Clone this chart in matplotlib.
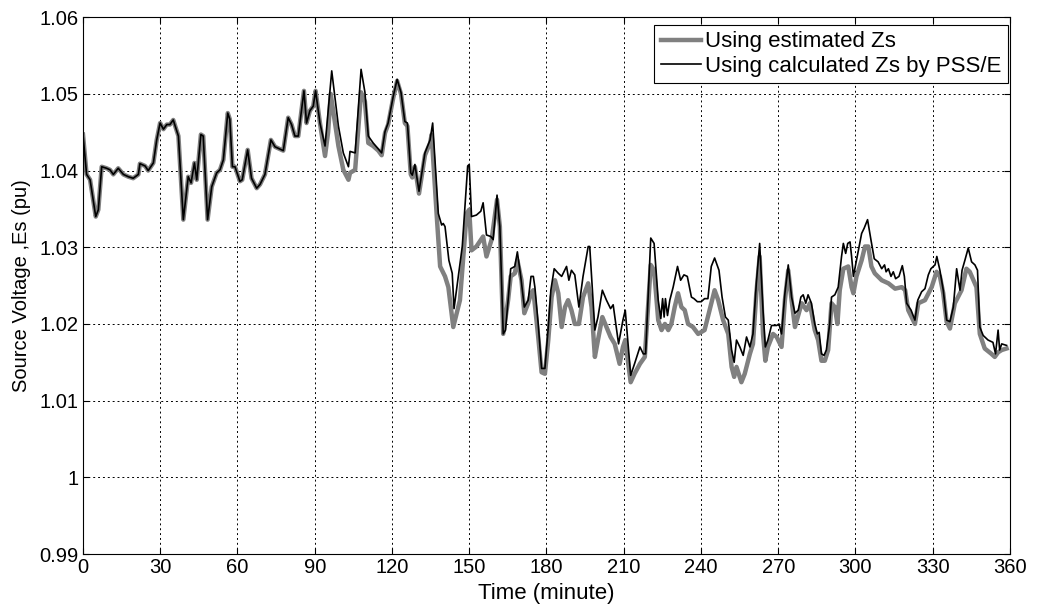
import matplotlib
matplotlib.use("Agg")
import matplotlib.pyplot as plt

# common part (both curves coincide up to ~93 min)
t_common = [0.0, 1.4, 2.75, 4.95, 5.96, 7.26, 9.17, 10.47, 11.78, 13.68, 15.69, 17.6, 19.5,
            21.51, 22.11, 24.12, 25.32, 27.33, 28.63, 29.94, 31.24, 32.54, 33.75, 35.05, 37.06,
            38.96, 40.87, 41.97, 43.28, 44.18, 45.79, 46.69, 48.39, 50.0, 51.91, 53.21, 54.51,
            56.22, 57.02, 58.03, 59.03, 60.94, 61.84, 63.95, 65.45, 67.46, 68.76, 70.66, 72.97,
            74.58, 77.79, 79.69, 81.0, 82.3, 83.61, 85.81, 86.81, 88.12, 89.42, 90.33, 92.03]
v_common = [1.0447, 1.0395, 1.0388, 1.0340, 1.0349, 1.0405, 1.0403, 1.0401, 1.0395, 1.0403,
            1.0395, 1.0392, 1.0390, 1.0395, 1.0409, 1.0406, 1.0400, 1.0410, 1.0440, 1.0462,
            1.0454, 1.0460, 1.0460, 1.0466, 1.0445, 1.0336, 1.0392, 1.0384, 1.0410, 1.0388,
            1.0447, 1.0445, 1.0336, 1.0379, 1.0397, 1.0401, 1.0414, 1.0475, 1.0467, 1.0405,
            1.0405, 1.0386, 1.0388, 1.0427, 1.0390, 1.0377, 1.0382, 1.0395, 1.0440, 1.0431,
            1.0426, 1.0469, 1.0460, 1.0445, 1.0445, 1.0504, 1.0462, 1.0478, 1.0484, 1.0504,
            1.0462]

# calculated Zs by PSS/E (black), after 93 min
t_calc = [94.0, 94.7, 96.6, 99.2, 101.1, 103.1, 103.7, 105.7, 108.0, 109.5, 110.8, 112.7,
          114.7, 116.0, 117.3, 118.5, 120.5, 122.0, 123.5, 125.0, 126.0, 127.3, 127.9, 128.9,
          130.5, 132.8, 134.8, 135.8, 138.0, 139.3, 139.9, 140.6, 142.1, 143.4, 144.1, 147.3,
          149.4, 150.0, 150.9, 152.8, 154.5, 155.4, 156.7, 158.4, 159.3, 160.8, 161.9, 163.2,
          164.1, 165.1, 166.1, 167.7, 168.7, 170.0, 171.4, 172.9, 174.0, 174.9, 175.5, 176.8,
          178.1, 179.4, 180.7, 181.7, 183.0, 184.6, 185.9, 187.8, 188.7, 189.7, 191.0, 192.6,
          194.2, 196.2, 196.8, 198.8, 200.0, 201.7, 203.3, 204.9, 205.9, 208.0, 209.7, 210.6,
          212.7, 214.2, 216.3, 217.6, 218.5, 220.5, 221.8, 223.4, 224.4, 225.1, 225.7, 226.2,
          227.0, 227.9, 229.2, 230.9, 232.1, 233.4, 234.7, 236.3, 237.3, 238.6, 240.1, 241.4,
          242.7, 244.0, 245.3, 247.0, 248.2, 249.5, 250.6, 251.9, 252.9, 253.8, 255.1, 256.4,
          257.7, 259.0, 260.2, 261.5, 262.8, 264.1, 265.0, 266.0, 267.4, 269.4, 270.3, 271.3,
          272.6, 273.9, 275.2, 276.5, 277.8, 278.8, 279.7, 280.7, 281.6, 282.9, 284.2, 285.2,
          285.9, 286.8, 287.8, 288.7, 290.0, 290.7, 292.0, 293.3, 294.6, 295.3, 296.2, 297.0,
          297.9, 298.5, 299.2, 300.4, 302.4, 303.4, 304.7, 306.0, 307.3, 308.8, 310.2, 311.3,
          311.9, 312.8, 313.8, 314.7, 315.6, 316.9, 318.2, 319.0, 319.9, 321.6, 323.1, 324.2,
          325.7, 327.0, 328.3, 329.3, 330.9, 331.6, 332.8, 334.1, 335.4, 336.7, 338.0, 339.3,
          340.6, 341.4, 342.5, 343.8, 345.1, 346.4, 347.4, 348.3, 349.6, 351.5, 353.4, 354.4,
          355.4, 356.0, 356.8, 358.7]
v_calc = [1.0432, 1.0458, 1.0530, 1.0458, 1.0423, 1.0405, 1.0425, 1.0423, 1.0532, 1.0502,
          1.0445, 1.0436, 1.0428, 1.0423, 1.0451, 1.0462, 1.0497, 1.0519, 1.0502, 1.0464,
          1.0462, 1.0397, 1.0394, 1.0408, 1.0373, 1.0423, 1.0440, 1.0462, 1.0344, 1.0329,
          1.0331, 1.0327, 1.0283, 1.0266, 1.0220, 1.0301, 1.0406, 1.0408, 1.0340, 1.0342,
          1.0347, 1.0358, 1.0316, 1.0314, 1.0310, 1.0368, 1.0327, 1.0187, 1.0192, 1.0231,
          1.0272, 1.0275, 1.0294, 1.0262, 1.0222, 1.0231, 1.0262, 1.0262, 1.0248, 1.0200,
          1.0142, 1.0142, 1.0196, 1.0244, 1.0272, 1.0266, 1.0262, 1.0275, 1.0257, 1.0270,
          1.0264, 1.0222, 1.0262, 1.0301, 1.0301, 1.0192, 1.0209, 1.0244, 1.0231, 1.0220,
          1.0225, 1.0174, 1.0205, 1.0218, 1.0133, 1.0148, 1.0170, 1.0161, 1.0161, 1.0312,
          1.0305, 1.0231, 1.0207, 1.0233, 1.0209, 1.0233, 1.0211, 1.0231, 1.0248, 1.0275,
          1.0257, 1.0264, 1.0262, 1.0235, 1.0233, 1.0229, 1.0229, 1.0233, 1.0233, 1.0275,
          1.0286, 1.0270, 1.0235, 1.0209, 1.0205, 1.0166, 1.0150, 1.0179, 1.0170, 1.0159,
          1.0183, 1.0170, 1.0187, 1.0253, 1.0305, 1.0218, 1.0170, 1.0179, 1.0198, 1.0198,
          1.0200, 1.0187, 1.0240, 1.0277, 1.0235, 1.0214, 1.0218, 1.0235, 1.0238, 1.0227,
          1.0238, 1.0227, 1.0200, 1.0187, 1.0189, 1.0161, 1.0159, 1.0166, 1.0200, 1.0235,
          1.0238, 1.0248, 1.0288, 1.0305, 1.0292, 1.0305, 1.0307, 1.0288, 1.0262, 1.0283,
          1.0318, 1.0325, 1.0336, 1.0310, 1.0285, 1.0281, 1.0272, 1.0277, 1.0268, 1.0272,
          1.0262, 1.0268, 1.0259, 1.0262, 1.0276, 1.0262, 1.0227, 1.0218, 1.0205, 1.0231,
          1.0242, 1.0246, 1.0264, 1.0272, 1.0277, 1.0288, 1.0270, 1.0244, 1.0205, 1.0203,
          1.0222, 1.0272, 1.0244, 1.0270, 1.0283, 1.0299, 1.0281, 1.0277, 1.0270, 1.0196,
          1.0185, 1.0179, 1.0176, 1.0161, 1.0192, 1.0166, 1.0174, 1.0172]

# estimated Zs (grey), after 93 min
t_est = [94.0, 95.2, 96.2, 99.2, 101.1, 103.1, 103.7, 105.7, 108.0, 109.5, 110.8, 112.7,
         114.7, 116.0, 117.3, 118.5, 120.5, 122.0, 123.5, 125.0, 126.0, 127.3, 127.9, 128.9,
         130.5, 132.8, 134.8, 135.4, 137.4, 138.7, 140.6, 141.9, 143.8, 146.4, 149.0, 150.0,
         150.9, 152.8, 155.4, 156.7, 158.7, 160.8, 161.9, 163.2, 165.1, 166.1, 167.7, 168.7,
         170.3, 171.4, 172.9, 174.0, 174.9, 176.8, 178.1, 179.4, 180.7, 182.0, 183.3, 184.6,
         185.9, 187.2, 188.4, 189.7, 191.0, 192.6, 194.2, 196.2, 197.5, 198.8, 200.0, 201.7,
         203.3, 204.9, 206.5, 208.4, 209.7, 210.6, 212.7, 214.2, 216.3, 218.2, 220.5, 221.8,
         223.4, 224.7, 226.0, 227.3, 228.5, 229.8, 231.1, 232.4, 233.7, 235.0, 236.9, 238.9,
         241.4, 244.0, 245.3, 246.7, 248.6, 250.6, 251.9, 252.9, 253.8, 255.7, 257.0, 259.0,
         260.2, 261.5, 262.8, 264.1, 265.0, 266.0, 268.0, 269.4, 271.3, 272.6, 273.9, 275.2,
         276.5, 279.1, 281.0, 282.3, 284.2, 285.5, 286.8, 288.1, 289.4, 290.7, 292.0, 293.0,
         293.9, 295.3, 297.2, 298.5, 299.2, 300.4, 302.4, 303.7, 305.0, 306.2, 307.5, 310.2,
         312.8, 315.4, 318.0, 319.3, 320.5, 323.1, 324.4, 327.0, 329.6, 331.5, 332.8, 334.1,
         335.4, 336.7, 338.6, 341.2, 343.1, 344.4, 347.0, 348.3, 350.2, 352.8, 354.1, 355.4,
         356.8, 358.7]
v_est = [1.0419, 1.0450, 1.0500, 1.0432, 1.0401, 1.0388, 1.0397, 1.0401, 1.0502, 1.0490,
         1.0436, 1.0432, 1.0426, 1.0420, 1.0449, 1.0460, 1.0495, 1.0517, 1.0500, 1.0462,
         1.0458, 1.0395, 1.0391, 1.0405, 1.0370, 1.0420, 1.0436, 1.0447, 1.0340, 1.0275,
         1.0262, 1.0248, 1.0196, 1.0231, 1.0344, 1.0349, 1.0296, 1.0301, 1.0314, 1.0288,
         1.0310, 1.0362, 1.0327, 1.0187, 1.0231, 1.0262, 1.0266, 1.0283, 1.0257, 1.0214,
         1.0227, 1.0240, 1.0244, 1.0183, 1.0137, 1.0135, 1.0179, 1.0235, 1.0257, 1.0240,
         1.0196, 1.0222, 1.0231, 1.0218, 1.0200, 1.0200, 1.0235, 1.0253, 1.0222, 1.0157,
         1.0179, 1.0209, 1.0196, 1.0183, 1.0174, 1.0148, 1.0170, 1.0179, 1.0124, 1.0135,
         1.0148, 1.0157, 1.0277, 1.0270, 1.0205, 1.0192, 1.0200, 1.0192, 1.0200, 1.0222,
         1.0240, 1.0222, 1.0218, 1.0200, 1.0196, 1.0187, 1.0192, 1.0227, 1.0244, 1.0231,
         1.0205, 1.0187, 1.0144, 1.0131, 1.0144, 1.0124, 1.0135, 1.0161, 1.0174, 1.0240,
         1.0288, 1.0187, 1.0152, 1.0170, 1.0187, 1.0183, 1.0170, 1.0231, 1.0270, 1.0231,
         1.0196, 1.0227, 1.0218, 1.0227, 1.0192, 1.0179, 1.0152, 1.0152, 1.0166, 1.0227,
         1.0222, 1.0200, 1.0244, 1.0272, 1.0275, 1.0248, 1.0240, 1.0262, 1.0283, 1.0301,
         1.0301, 1.0275, 1.0266, 1.0257, 1.0253, 1.0246, 1.0248, 1.0244, 1.0218, 1.0200,
         1.0227, 1.0231, 1.0248, 1.0268, 1.0262, 1.0240, 1.0203, 1.0194, 1.0227, 1.0244,
         1.0272, 1.0268, 1.0248, 1.0187, 1.0168, 1.0161, 1.0157, 1.0163, 1.0166, 1.0168]

t_black = t_common + t_calc
v_black = v_common + v_calc
t_grey = t_common + t_est
v_grey = v_common + v_est

plt.rcParams['font.family'] = ['Liberation Sans', 'DejaVu Sans']
plt.rcParams['font.size'] = 14.5

fig = plt.figure(figsize=(10.4, 6.1), dpi=100)
ax = fig.add_axes([0.0798, 0.0918, 0.8913, 0.880])

ax.plot(t_grey, v_grey, color='#808080', lw=3.2, label='Using estimated Zs')
ax.plot(t_black, v_black, color='black', lw=1.2, label='Using calculated Zs by PSS/E')

ax.set_xlim(0, 360)
ax.set_ylim(0.99, 1.06)
ax.set_xticks(range(0, 361, 30))
ax.set_yticks([0.99, 1.0, 1.01, 1.02, 1.03, 1.04, 1.05, 1.06])
ax.set_yticklabels(['0.99', '1', '1.01', '1.02', '1.03', '1.04', '1.05', '1.06'])
ax.grid(True, color='black', linestyle=(0, (2, 3)), lw=0.7)
ax.tick_params(direction='in', top=True, right=True, length=4, pad=3)
for s in ax.spines.values():
    s.set_linewidth(0.8)

ax.set_xlabel('Time (minute)', fontsize=16, labelpad=4)
ax.set_ylabel('Source Voltage ,Es (pu)', fontsize=14.5, labelpad=6)

leg = ax.legend(loc='upper right', bbox_to_anchor=(0.998, 0.986), borderaxespad=0,
                fancybox=False, framealpha=1, edgecolor='black',
                handlelength=1.8, handletextpad=0.2,
                borderpad=0.3, labelspacing=0.15, fontsize=16)
leg.get_frame().set_linewidth(0.8)

fig.savefig('out.png', dpi=100)
